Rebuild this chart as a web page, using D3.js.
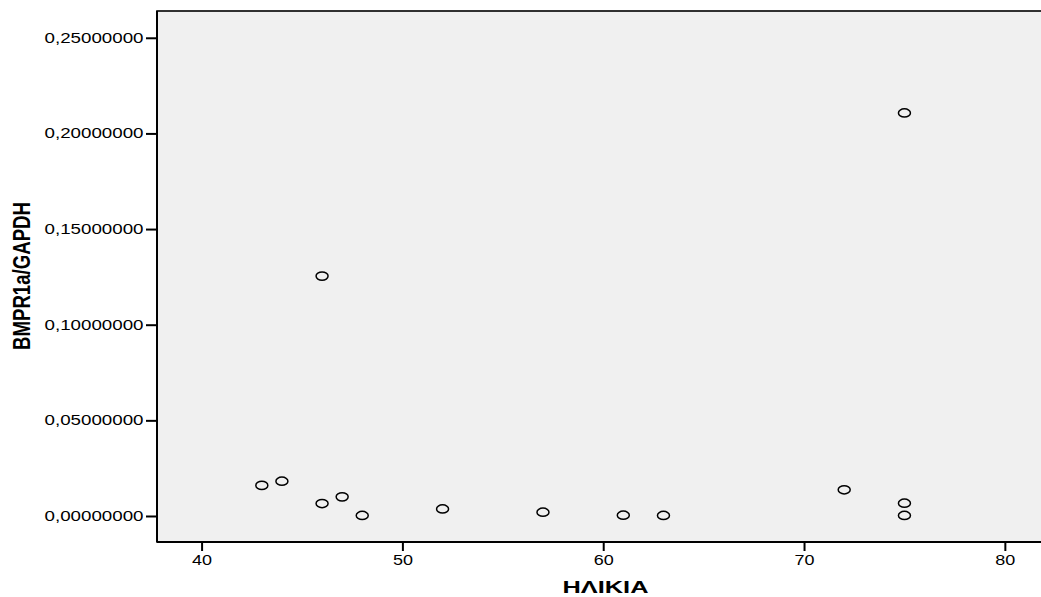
<!DOCTYPE html>
<html>
<head>
<meta charset="utf-8">
<script src="https://cdn.jsdelivr.net/npm/d3@7"></script>
<style>
  html, body { margin: 0; padding: 0; background: #ffffff; }
  svg { display: block; }
  text { font-family: "Liberation Sans", Arial, sans-serif; fill: #000; }
</style>
</head>
<body>
<svg id="chart" width="1041" height="597"></svg>
<script>
// Data (age vs BMPR1a/GAPDH)
const ages   = [43, 44, 46, 47, 48, 52, 57, 61, 63, 72, 75, 75, 46, 75];
const ratios = [0.0160, 0.0182, 0.0065, 0.0100, 0.0003, 0.0037, 0.0020, 0.0004, 0.0003, 0.0137, 0.0067, 0.0003, 0.1254, 0.2107];
const xTicks = [40, 50, 60, 70, 80];
const yTicks = [0, 0.05, 0.10, 0.15, 0.20, 0.25];
const xTitle = "ΗΛΙΚΙΑ";
const yTitle = "BMPR1a/GAPDH";

const svg = d3.select("#chart");
const pLeft = 157, pTop = 11, pRight = 1041, pBottom = 542;
const stretch = 1.32; // horizontal stretch of the original image

const x = d3.scaleLinear().domain([37.78, 81.8]).range([pLeft, pRight]);
const y = d3.scaleLinear().domain([-0.0136, 0.264]).range([pBottom, pTop]);

// plot background
svg.append("rect")
  .attr("x", pLeft).attr("y", pTop)
  .attr("width", pRight - pLeft + 20).attr("height", pBottom - pTop)
  .attr("fill", "#f0f0f0")
  .attr("stroke", "#000").attr("stroke-width", 1.6);

const fmt = v => d3.format(".8f")(v).replace(".", ",");

// y axis
const yAxis = svg.append("g").attr("transform", `translate(${pLeft},0)`)
  .call(d3.axisLeft(y).tickValues(yTicks).tickSize(11).tickFormat(fmt));
yAxis.select(".domain").remove();
yAxis.selectAll(".tick line").attr("stroke", "#000").attr("stroke-width", 2);
yAxis.selectAll(".tick text")
  .attr("x", -13.5)
  .attr("font-size", 14)
  .attr("font-family", "Liberation Sans, Arial, sans-serif")
  .attr("textLength", 99).attr("lengthAdjust", "spacingAndGlyphs");

// x axis
const xAxis = svg.append("g").attr("transform", `translate(0,${pBottom})`)
  .call(d3.axisBottom(x).tickValues(xTicks).tickSize(9).tickFormat(d3.format("d")));
xAxis.select(".domain").remove();
xAxis.selectAll(".tick line").attr("stroke", "#000").attr("stroke-width", 2);
xAxis.selectAll(".tick text")
  .attr("y", 13)
  .attr("font-size", 14)
  .attr("font-family", "Liberation Sans, Arial, sans-serif")
  .attr("textLength", 20).attr("lengthAdjust", "spacingAndGlyphs");

// frame lines (left, bottom)
svg.append("line").attr("x1", pLeft).attr("x2", pLeft).attr("y1", pTop).attr("y2", pBottom)
  .attr("stroke", "#000").attr("stroke-width", 2);
svg.append("line").attr("x1", pLeft).attr("x2", 1041).attr("y1", pBottom).attr("y2", pBottom)
  .attr("stroke", "#000").attr("stroke-width", 2);

// points
svg.append("g").selectAll("ellipse")
  .data(ages.map((a, i) => ({a, r: ratios[i]})))
  .join("ellipse")
  .attr("cx", d => x(d.a))
  .attr("cy", d => y(d.r))
  .attr("rx", 6)
  .attr("ry", 4.1)
  .attr("fill", "none")
  .attr("stroke", "#000")
  .attr("stroke-width", 1.5);

// axis titles
svg.append("text")
  .attr("x", 605.5).attr("y", 593)
  .attr("text-anchor", "middle")
  .attr("font-size", 17).attr("font-weight", "bold")
  .attr("textLength", 86).attr("lengthAdjust", "spacingAndGlyphs")
  .text(xTitle);

svg.append("text")
  .attr("transform", `translate(29.5,276) scale(${stretch},1) rotate(-90)`)
  .attr("text-anchor", "middle")
  .attr("font-size", 18).attr("font-weight", "bold")
  .attr("textLength", 148).attr("lengthAdjust", "spacingAndGlyphs")
  .text(yTitle);
</script>
</body>
</html>
